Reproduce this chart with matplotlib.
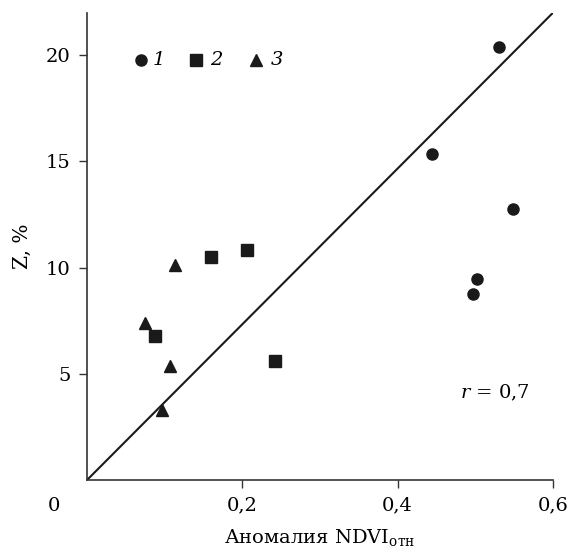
import matplotlib
matplotlib.use("Agg")
import matplotlib.pyplot as plt

plt.rcParams['font.family'] = ['DejaVu Serif']
plt.rcParams['mathtext.fontset'] = 'dejavuserif'

# группа 1 (кружки)
x1 = [0.531, 0.444, 0.549, 0.502, 0.497]
y1 = [20.39, 15.37, 12.76, 9.47, 8.75]
# группа 2 (квадраты)
x2 = [0.160, 0.206, 0.0875, 0.242]
y2 = [10.48, 10.85, 6.77, 5.60]
# группа 3 (треугольники)
x3 = [0.113, 0.0747, 0.107, 0.096]
y3 = [10.14, 7.39, 5.35, 3.29]

line_x = [0.0, 0.6]
line_y = [0.0, 22.0]

xticks = [0.2, 0.4, 0.6]
xticklabels = ["0,2", "0,4", "0,6"]
yticks = [5, 10, 15, 20]

fig = plt.figure(figsize=(5.74, 5.55), dpi=100)
ax = fig.add_axes([0.1516, 0.1351, 0.9634 - 0.1516, 0.9771 - 0.1351])

ax.plot(line_x, line_y, color="#1a1a1a", lw=1.5)
ax.plot(x1, y1, "o", color="#1a1a1a", ms=8)
ax.plot(x2, y2, "s", color="#1a1a1a", ms=8.5)
ax.plot(x3, y3, "^", color="#1a1a1a", ms=9)

# легенда
ax.plot([0.069], [19.77], "o", color="#1a1a1a", ms=8)
ax.text(0.093, 19.77, "1", fontsize=14, fontstyle="italic", ha="center", va="center")
ax.plot([0.140], [19.77], "s", color="#1a1a1a", ms=8.5)
ax.text(0.167, 19.77, "2", fontsize=14, fontstyle="italic", ha="center", va="center")
ax.plot([0.218], [19.77], "^", color="#1a1a1a", ms=9)
ax.text(0.245, 19.77, "3", fontsize=14, fontstyle="italic", ha="center", va="center")

ax.text(0.525, 4.08, r"$r$ = 0,7", fontsize=14, ha="center", va="center")

ax.set_xlim(0, 0.6)
ax.set_ylim(0, 22)
ax.spines["top"].set_visible(False)
ax.spines["right"].set_visible(False)
for s in ["left", "bottom"]:
    ax.spines[s].set_color("#333333")
    ax.spines[s].set_linewidth(1.2)

ax.set_xticks(xticks)
ax.set_xticklabels(xticklabels)
ax.set_yticks(yticks)
ax.tick_params(direction="out", length=6, width=1, color="#333333", labelsize=14, pad=6)
ax.text(-0.042, -1.2, "0", fontsize=14, ha="center", va="center")

ax.set_xlabel(r"Аномалия NDVI$_{\mathrm{отн}}$", fontsize=14, labelpad=9)
ax.set_ylabel("Z, %", fontsize=14.5, labelpad=10)

fig.savefig("out.png", dpi=100)
